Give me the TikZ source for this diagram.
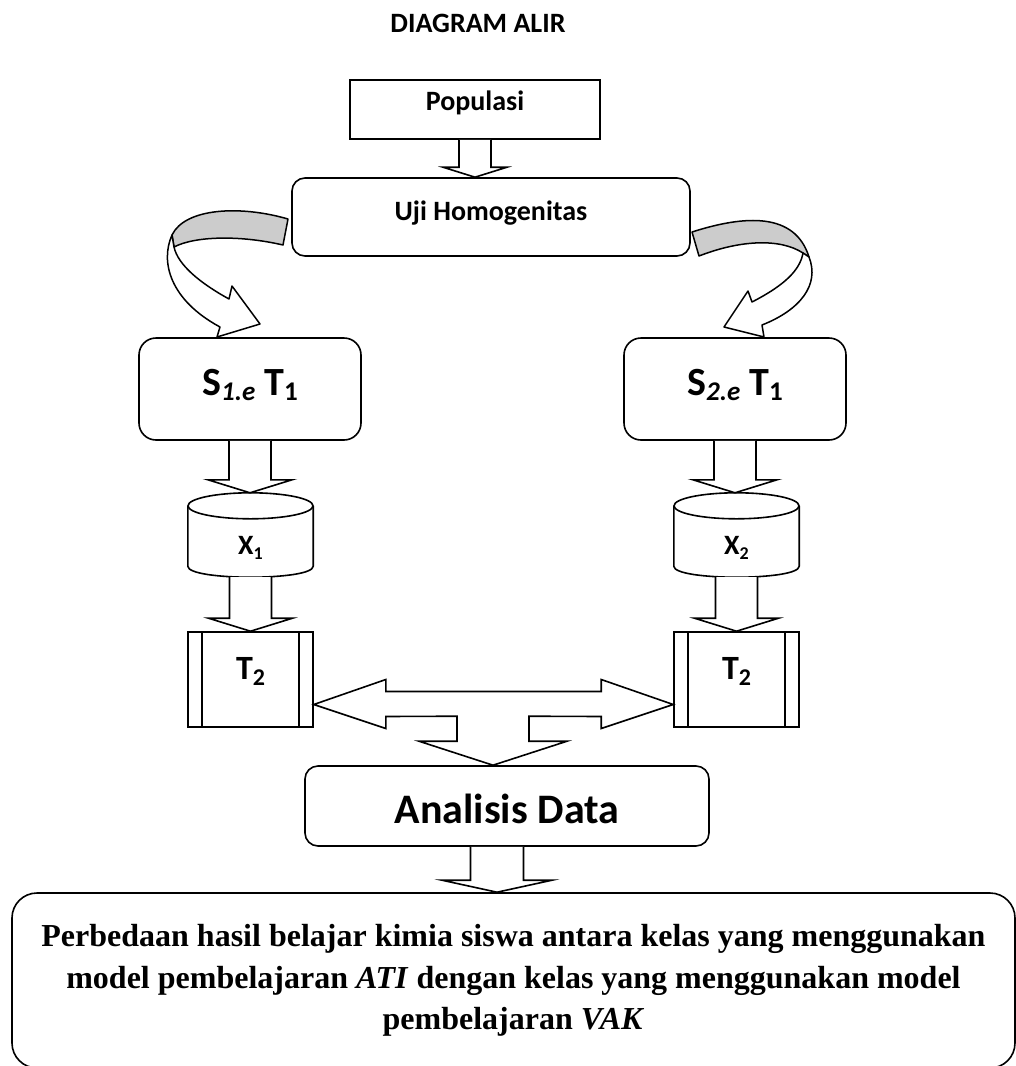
\documentclass[tikz,border=0pt]{standalone}
\usepackage{fontspec}
\setmainfont{Carlito}
\newfontfamily\timesfont{Liberation Serif}
\usetikzlibrary{calc}

\definecolor{ribbongray}{gray}{0.8}

% lowered small text (subscripts as in the original)
\newcommand{\sbs}[3]{\raisebox{-#1pt}{\fontsize{#2}{#2}\selectfont #3}}

% straight block arrow: from, to, shaft half width, head half width, head length
\newcommand{\blkarrow}[5]{%
  \draw[blk] ($(#1)+(-#3,0)$) -- ($(#1|-#2)+(-#3,-#5)$) -- ($(#1|-#2)+(-#4,-#5)$)
    -- (#1|-#2) -- ($(#1|-#2)+(#4,-#5)$) -- ($(#1|-#2)+(#3,-#5)$) -- ($(#1)+(#3,0)$);
}

% outline of a drum round a node
\newcommand{\cylout}[1]{%
  \draw[line width=1.6pt] ($(#1.north west)+(0,13)$) -- ($(#1.south west)+(0,-11)$)
    .. controls +(0,14.7) and +(0,14.7) .. ($(#1.south east)+(0,-11)$) -- ($(#1.north east)+(0,13)$);
  \draw[line width=1.6pt] ($(#1.north)+(0,13)$) ellipse [x radius=62.5pt, y radius=13pt];
}

\tikzset{
  box/.style = {draw, line width=1.6pt, inner sep=0pt, font=\fontsize{28}{30}\selectfont\bfseries},
  rbox/.style = {box, rounded corners=13pt},
  cylbox/.style = {inner sep=0pt, minimum width=125, minimum height=84, text height=40, text depth=2, font=\fontsize{28}{30}\selectfont\bfseries},
  tbox/.style = {box, minimum width=125, minimum height=95, text height=10, text depth=10, font=\fontsize{34}{34}\selectfont\bfseries},
  blk/.style = {draw, fill=white, line width=1.6pt, line join=miter},
  twist/.style = {draw, line width=1.5pt, line join=round},
}

\begin{document}
\begin{tikzpicture}[x=1pt, y=-1pt]
    \useasboundingbox (0,0) rectangle (1016,1066);
    \clip (0,0) rectangle (1016,1066);

    \node[font=\fontsize{28}{30}\selectfont\bfseries] (title) at (478,23) {DIAGRAM ALIR};
    \node[box, minimum width=250, minimum height=59, text height=10, text depth=9] (pop) at (475,109.5) {Populasi};
    \node[rbox, minimum width=398, minimum height=78, text height=12, text depth=6] (uji) at (491,217) {Uji Homogenitas};

    \node[rbox, rounded corners=17pt, minimum width=222, minimum height=102, text height=18, text depth=6,
      font=\fontsize{40}{40}\selectfont\bfseries] (s1) at (250,389) {S\sbs{5}{27}{\textit{1.e}} T\sbs{5}{27}{1}};
    \node[rbox, rounded corners=17pt, minimum width=222, minimum height=102, text height=18, text depth=6,
      font=\fontsize{40}{40}\selectfont\bfseries] (s2) at (735,389) {S\sbs{5}{27}{\textit{2.e}} T\sbs{5}{27}{1}};

    \node[cylbox] (x1) at (250.5,535) {X\sbs{5}{18}{1}};
    \node[cylbox] (x2) at (736.5,535) {X\sbs{5}{18}{2}};
    \cylout{x1}
    \cylout{x2}

    \node[tbox] (t2a) at (250.5,679.5) {T\sbs{6}{24}{2}};
    \node[tbox] (t2b) at (736.5,679.5) {T\sbs{6}{24}{2}};
    \draw[line width=1.6pt] ($(t2a.north west)+(15,0)$) -- ($(t2a.south west)+(15,0)$);
    \draw[line width=1.6pt] ($(t2a.north east)+(-15,0)$) -- ($(t2a.south east)+(-15,0)$);
    \draw[line width=1.6pt] ($(t2b.north west)+(15,0)$) -- ($(t2b.south west)+(15,0)$);
    \draw[line width=1.6pt] ($(t2b.north east)+(-15,0)$) -- ($(t2b.south east)+(-15,0)$);

    \node[rbox, minimum width=404, minimum height=80, text height=36, text depth=2,
      font=\fontsize{42}{42}\selectfont\bfseries] (ana) at (507,806) {Analisis Data};
    \node[rbox, rounded corners=25pt, minimum width=1003, minimum height=175,
      align=center, font=\timesfont\bfseries\fontsize{32}{41.5}\selectfont] (hasil) at (513.5,980.5)
      {Perbedaan hasil belajar kimia siswa antara kelas yang menggunakan\\
       model pembelajaran \textit{ATI} dengan kelas yang menggunakan model\\
       pembelajaran \textit{VAK}};

    % straight block arrows
    \blkarrow{pop.south}{uji.north}{16}{32}{10}
    \blkarrow{s1.south}{x1.north}{21}{42}{13}
    \blkarrow{s2.south}{x2.north}{21}{42}{13}
    \blkarrow{x1.south}{t2a.north}{21}{42}{13}
    \blkarrow{x2.south}{t2b.north}{21}{42}{13}
    \coordinate (anaout) at ($(ana.south)+(-10,0)$);
    \blkarrow{anaout}{hasil.north}{26.5}{55}{12}

    % two-way arrow with branch down to the analysis
    \coordinate (dl) at ($(t2a.east)+(0,25)$);
    \coordinate (dr) at ($(t2b.west)+(0,25)$);
    \coordinate (dd) at ($(ana.north)+(-14,0)$);
    \draw[blk] (dl) -- ++(72,-25) -- ++(0,12) -- ($(dr)+(-72,-13)$) -- ++(0,-12) -- (dr)
      -- ++(-72,24) -- ++(0,-12) -- ($(dd)+(36,-49)$) -- ++(0,25) -- ++(38,0) -- (dd)
      -- ++(-74,-24) -- ++(38,0) -- ++(0,-25) -- ($(dl)+(72,12)$) -- ++(0,12) -- cycle;

    % curved ribbon arrows
    \draw[twist, fill=ribbongray] (288,219) .. controls (240,205) and (185,208) .. (172,235)
      -- (174,247) .. controls (195,236) and (240,235) .. (283,245) -- cycle;
    \draw[twist, fill=white] (172,235) .. controls (160,262) and (170,300) .. (220,327)
      -- (217,337) -- (260,324) -- (232,286) -- (229,299) .. controls (200,283) and (178,265) .. (174,247) -- cycle;
    \draw[twist, fill=ribbongray] (692,232) .. controls (745,215) and (795,212) .. (809,257)
      -- (803,253) .. controls (780,238) and (740,240) .. (699,256) -- cycle;
    \draw[twist, fill=white] (809,257) .. controls (820,285) and (800,310) .. (762,325)
      -- (764,337) -- (724,327) -- (748,291) -- (752,302) .. controls (785,285) and (800,270) .. (803,253) -- cycle;
\end{tikzpicture}
\end{document}
